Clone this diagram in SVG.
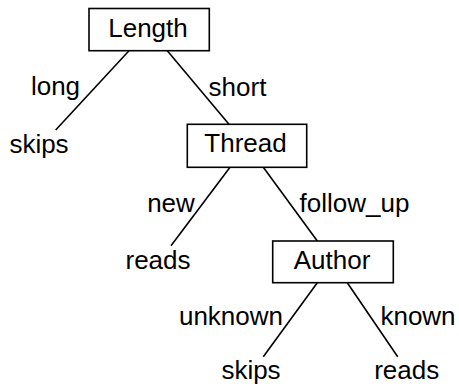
<svg xmlns="http://www.w3.org/2000/svg" width="459" height="386" viewBox="0 0 459 386">
<style>
text{font-family:"Liberation Sans",Arial,Helvetica,sans-serif;font-size:26px;fill:#000;text-anchor:middle}
.box{fill:#fff;stroke:#000;stroke-width:1.6}
.edge{stroke:#000;stroke-width:1.6;fill:none}
</style>
<rect width="459" height="386" fill="#fff"/>
<g id="connectors">
<line class="edge" x1="129" y1="50.7" x2="55.7" y2="130"/>
<line class="edge" x1="167.3" y1="50.7" x2="229" y2="124.3"/>
<line class="edge" x1="230" y1="167.3" x2="171" y2="245.7"/>
<line class="edge" x1="263.3" y1="167.3" x2="317.3" y2="241"/>
<line class="edge" x1="317.3" y1="282.7" x2="263.3" y2="356.7"/>
<line class="edge" x1="347.3" y1="282.7" x2="397.7" y2="356.7"/>
<text x="55.5" y="94.5">long</text>
<text x="237.5" y="95.5">short</text>
<text x="171" y="211.5">new</text>
<text x="354.5" y="211.7">follow_up</text>
<text x="231" y="325">unknown</text>
<text x="418" y="325">known</text>
</g>
<g id="length"><rect class="box" x="89" y="8.5" width="120.3" height="42.2"/><text x="148" y="37.3">Length</text></g>
<g id="thread"><rect class="box" x="187.3" y="124.3" width="119.4" height="43"/><text x="245.5" y="152">Thread</text></g>
<g id="author"><rect class="box" x="272.7" y="241" width="120.6" height="41.7"/><text x="332" y="269">Author</text></g>
<g id="skips1"><text x="39" y="153">skips</text></g>
<g id="reads1"><text x="158" y="269">reads</text></g>
<g id="skips2"><text x="251" y="379">skips</text></g>
<g id="reads2"><text x="406.7" y="379">reads</text></g>
</svg>
